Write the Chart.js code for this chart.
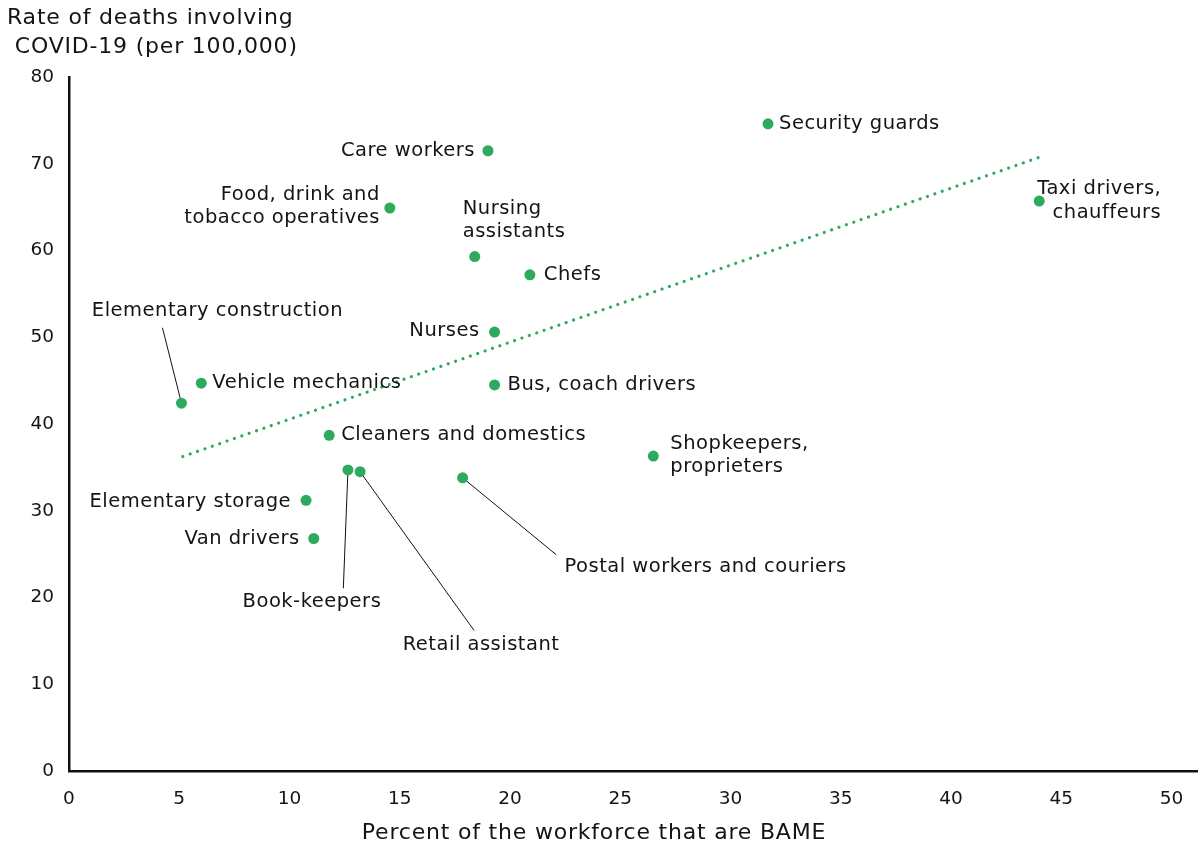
<!DOCTYPE html>
<html>
<head>
<meta charset="utf-8">
<script src="https://cdn.jsdelivr.net/npm/chart.js@4/dist/chart.umd.min.js"></script>
<style>
  html, body { margin: 0; padding: 0; background: #fff; }
  #wrap { width: 1198px; height: 845px; position: relative; }
</style>
</head>
<body>
<div id="wrap"><canvas id="c" width="1198" height="845"></canvas></div>
<script>
// ---- Data ----
const categories = [
  "Security guards",
  "Care workers",
  "Food, drink and\ntobacco operatives",
  "Nursing\nassistants",
  "Chefs",
  "Taxi drivers,\nchauffeurs",
  "Nurses",
  "Elementary construction",
  "Vehicle mechanics",
  "Bus, coach drivers",
  "Cleaners and domestics",
  "Shopkeepers,\nproprieters",
  "Book-keepers",
  "Retail assistant",
  "Postal workers and couriers",
  "Elementary storage",
  "Van drivers"
];
const bamePercent = [31.7, 19.0, 14.55, 18.4, 20.9, 44.0, 19.3, 5.1, 6.0, 19.3, 11.8, 26.5, 12.65, 13.2, 17.85, 10.75, 11.1];
const deathRate   = [74.6, 71.5, 64.9, 59.3, 57.2, 65.7, 50.6, 42.4, 44.7, 44.5, 38.7, 36.3, 34.7, 34.5, 33.8, 31.2, 26.8];
const trendX = [5.16, 44.07];
const trendY = [36.25, 70.8];
const xTicks = [0, 5, 10, 15, 20, 25, 30, 35, 40, 45, 50];
const yTicks = [0, 10, 20, 30, 40, 50, 60, 70, 80];
const yTitle = ["Rate of deaths involving", " COVID-19 (per 100,000)"];
const xTitle = "Percent of the workforce that are BAME";

// ---- Label placement (styling, pixel offsets from each point) ----
const labelPlacement = [
  { align: "left",   dx: 11,  dy: 0 },
  { align: "right",  dx: -13, dy: 0 },
  { align: "right",  dx: -10, dy: -13.5 },
  { align: "left",   dx: -12, dy: -47.5 },
  { align: "left",   dx: 14,  dy: 0 },
  { align: "right",  dx: 122, dy: -11.7 },
  { align: "right",  dx: -15, dy: -1 },
  { align: "center", dx: 36,  dy: -92,  leader: [-19, -75.4] },
  { align: "left",   dx: 11,  dy: 0 },
  { align: "left",   dx: 13,  dy: 0 },
  { align: "left",   dx: 12,  dy: 0 },
  { align: "left",   dx: 17,  dy: -12 },
  { align: "center", dx: -36, dy: 132,  leader: [-4.6, 118.3] },
  { align: "center", dx: 121, dy: 173,  leader: [114, 158.7] },
  { align: "center", dx: 243, dy: 89,   leader: [93.7, 77] },
  { align: "right",  dx: -15, dy: 2 },
  { align: "right",  dx: -14, dy: 0 }
];

const GREEN = "#2eaa5e";
const TEXT = "#141414";
const FONT = "'DejaVu Sans', 'Noto Sans', sans-serif";
const LINE_H = 23.3;

const points = bamePercent.map((x, i) => ({ x: x, y: deathRate[i] }));
const trend = trendX.map((x, i) => ({ x: x, y: trendY[i] }));

const annotationPlugin = {
  id: "annot",
  beforeDatasetsDraw(chart) {
    const ctx = chart.ctx;
    const xs = chart.scales.x, ys = chart.scales.y;
    ctx.save();
    ctx.strokeStyle = "#111";
    ctx.lineWidth = 1;
    labelPlacement.forEach((p, i) => {
      if (!p.leader) return;
      const px = xs.getPixelForValue(bamePercent[i]);
      const py = ys.getPixelForValue(deathRate[i]);
      ctx.beginPath();
      ctx.moveTo(px + p.leader[0], py + p.leader[1]);
      ctx.lineTo(px, py);
      ctx.stroke();
    });
    ctx.restore();
  },
  afterDatasetsDraw(chart) {
    const ctx = chart.ctx;
    const xs = chart.scales.x, ys = chart.scales.y;
    ctx.save();
    ctx.fillStyle = TEXT;
    ctx.font = "19.5px " + FONT;
    if ("letterSpacing" in ctx) ctx.letterSpacing = "0.5px";
    ctx.textBaseline = "middle";
    categories.forEach((name, i) => {
      const p = labelPlacement[i];
      const px = xs.getPixelForValue(bamePercent[i]);
      const py = ys.getPixelForValue(deathRate[i]);
      ctx.textAlign = p.align;
      name.split("\n").forEach((line, k) => {
        ctx.fillText(line, px + p.dx, py + p.dy + k * LINE_H);
      });
    });
    // axis titles
    ctx.font = "22px " + FONT;
    if ("letterSpacing" in ctx) ctx.letterSpacing = "0.8px";
    ctx.textAlign = "left";
    ctx.fillText(yTitle[0], 7, 18);
    ctx.fillText(yTitle[1], 7, 47);
    ctx.textAlign = "center";
    ctx.fillText(xTitle, 594, 833);
    ctx.restore();
  }
};

new Chart(document.getElementById("c"), {
  type: "scatter",
  data: {
    datasets: [
      {
        label: "Trend",
        type: "line",
        data: trend,
        borderColor: GREEN,
        borderWidth: 3.2,
        borderDash: [0.01, 7.8],
        borderCapStyle: "round",
        pointRadius: 0,
        fill: false,
        tension: 0,
        order: 2
      },
      {
        label: "Occupations",
        data: points,
        backgroundColor: GREEN,
        borderColor: GREEN,
        borderWidth: 0,
        pointRadius: 5.5,
        pointHoverRadius: 5.5,
        order: 1
      }
    ]
  },
  options: {
    responsive: false,
    animation: false,
    events: [],
    layout: { autoPadding: false, padding: { left: 0, right: 0, top: 77, bottom: 0 } },
    plugins: { legend: { display: false }, tooltip: { enabled: false }, title: { display: false } },
    scales: {
      x: {
        type: "linear",
        min: 0,
        max: 51.2,
        afterBuildTicks(scale) { scale.ticks = xTicks.map(v => ({ value: v })); },
        afterFit(scale) { scale.height = 74; scale.paddingRight = 0; },
        grid: { display: false, drawTicks: false },
        border: { display: true, color: "#111", width: 2.5 },
        ticks: {
          padding: 17,
          color: TEXT,
          font: { family: FONT, size: 18.5 },
          maxRotation: 0,
          autoSkip: false
        }
      },
      y: {
        type: "linear",
        min: 0,
        max: 80,
        afterBuildTicks(scale) { scale.ticks = yTicks.map(v => ({ value: v })); },
        afterFit(scale) { scale.width = 69; },
        grid: { display: false, drawTicks: false },
        border: { display: true, color: "#111", width: 2.5 },
        ticks: {
          padding: 15,
          color: TEXT,
          font: { family: FONT, size: 18.5 },
          autoSkip: false
        }
      }
    }
  },
  plugins: [annotationPlugin]
});
</script>
</body>
</html>
